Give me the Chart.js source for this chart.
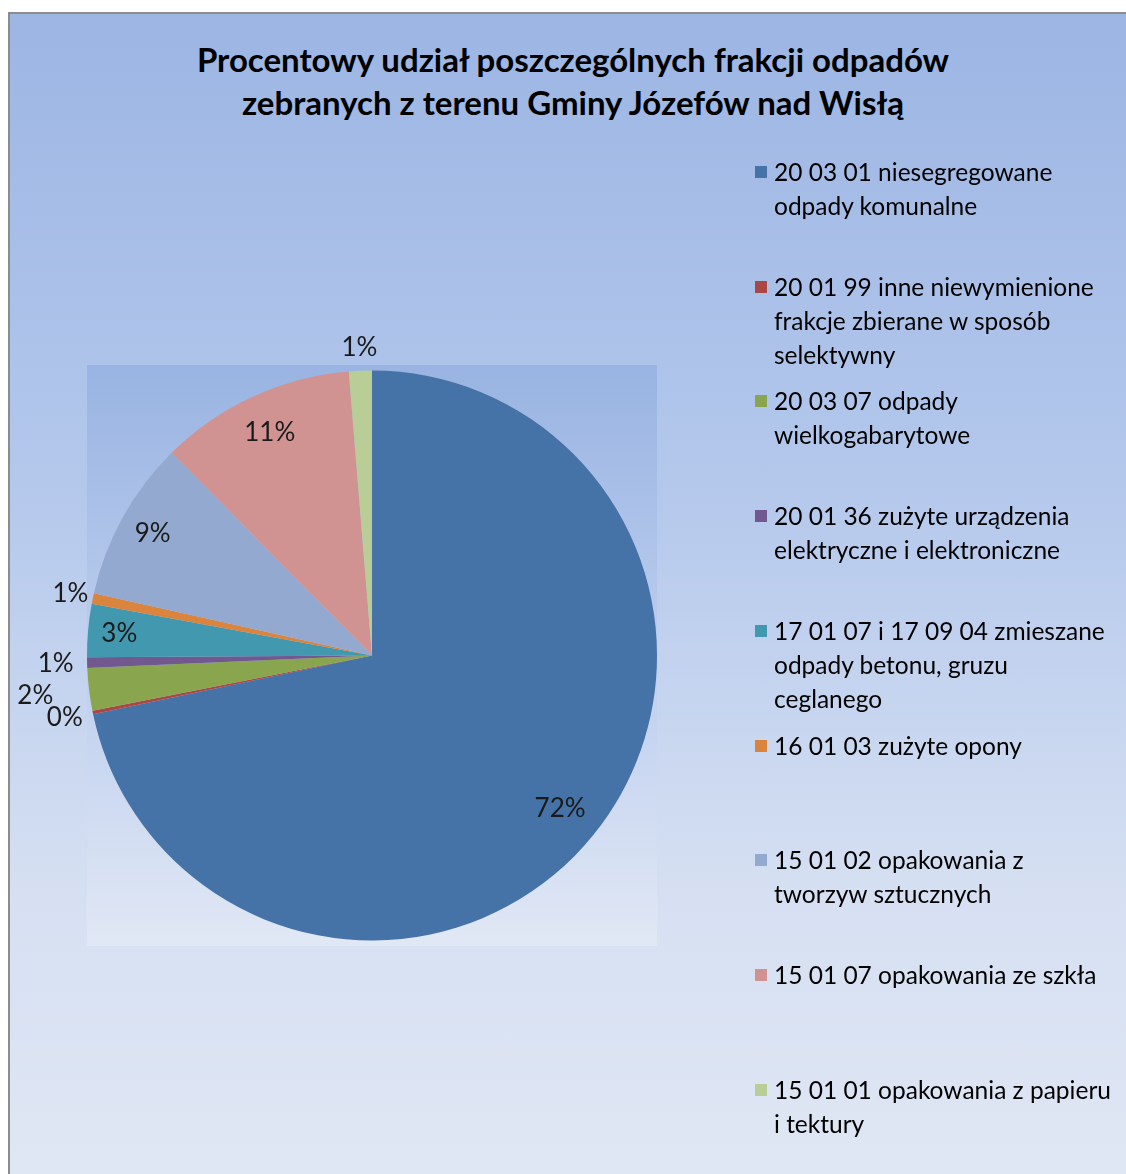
<!DOCTYPE html>
<html>
<head>
<meta charset="utf-8">
<script src="https://cdn.jsdelivr.net/npm/chart.js@4"></script>
<style>
  html, body { margin: 0; padding: 0; background: #ffffff; }
  #frame {
    position: absolute; left: 8px; top: 12px; width: 1130px; height: 1180px;
    border-left: 2px solid #8c8c8c; border-top: 2px solid #8c8c8c;
    background: linear-gradient(to bottom, #9cb5e3 0%, #b4c8ec 40%, #d6e0f2 75%, #e0e7f4 100%);
    font-family: Lato, "Open Sans", sans-serif;
  }
  #title {
    position: absolute; left: 0; top: 24px; width: 1126px; text-align: center;
    font-weight: bold; font-size: 33px; line-height: 43px; color: #000;
  }
  #chart { position: absolute; left: -10px; top: -14px; }
  .item { position: absolute; left: 764px; font-size: 24.5px; line-height: 34px; color: #000; }
  .item .box { position: absolute; left: -19px; top: 11px; width: 12px; height: 12px; }
</style>
</head>
<body>
<div id="frame">
  <div id="title">Procentowy udział poszczególnych frakcji odpadów<br>zebranych z terenu Gminy Józefów nad Wisłą</div>
  <canvas id="chart" width="1126" height="1174"></canvas>
  <div id="legend"></div>
</div>
<script>
// ----------------- DATA -----------------
var categories = [
    ["20 03 01 niesegregowane", "odpady komunalne"],
    ["20 01 99 inne niewymienione", "frakcje zbierane w sposób", "selektywny"],
    ["20 03 07 odpady", "wielkogabarytowe"],
    ["20 01 36 zużyte urządzenia", "elektryczne i elektroniczne"],
    ["17 01 07 i 17 09 04 zmieszane", "odpady betonu, gruzu", "ceglanego"],
    ["16 01 03 zużyte opony"],
    ["15 01 02 opakowania z", "tworzyw sztucznych"],
    ["15 01 07 opakowania ze szkła"],
    ["15 01 01 opakowania z papieru", "i tektury"]
];
// percentage share of each fraction
var shares = [71.7, 0.2, 2.4, 0.6, 3.0, 0.6, 9.1, 11.1, 1.3];
var colors = ['#4572a7', '#aa4643', '#89a54e', '#71588f', '#4198af',
              '#db843d', '#93a9cf', '#d19392', '#b9cd96'];

// label distance from centre, as a part of the radius
var labelRadius = [0.85, 1.10, 1.19, 1.11, 0.89, 1.08, 0.88, 0.86, 1.08];
var LEGEND_TOP = 160;
var LEGEND_STEP = 114.7;

// ----------------- LEGEND (html) -----------------
var legend = document.getElementById('legend');
for (var i = 0; i < categories.length; i++) {
    var div = document.createElement('div');
    div.className = 'item';
    div.style.top = (LEGEND_TOP + i * LEGEND_STEP - 19) + 'px';
    div.innerHTML = '<span class="box" style="background:' + colors[i] + '"></span>' +
                    categories[i].join('<br>');
    legend.appendChild(div);
}

// ----------------- PLUGINS -----------------
// plot area background
var plotBg = {
    id: 'plotBg',
    beforeDraw: function(chart) {
        var a = chart.chartArea, ctx = chart.ctx;
        var g = ctx.createLinearGradient(0, a.top, 0, a.bottom);
        g.addColorStop(0, '#99b4e2');
        g.addColorStop(0.5, '#bccdee');
        g.addColorStop(1, '#e1e8f5');
        ctx.save();
        ctx.fillStyle = g;
        ctx.fillRect(a.left, a.top, a.right - a.left, a.bottom - a.top);
        ctx.restore();
    }
};

// percent labels
var pctLabels = {
    id: 'pctLabels',
    afterDatasetsDraw: function(chart) {
        var ctx = chart.ctx;
        var arcs = chart.getDatasetMeta(0).data;
        ctx.save();
        ctx.font = '26px Lato, "Open Sans", sans-serif';
        ctx.fillStyle = '#1a1a1a';
        ctx.textAlign = 'center';
        ctx.textBaseline = 'middle';
        arcs.forEach(function(arc, i) {
            var mid = (arc.startAngle + arc.endAngle) / 2;
            var r = arc.outerRadius * labelRadius[i];
            var x = arc.x + Math.cos(mid) * r;
            var y = arc.y + Math.sin(mid) * r;
            ctx.fillText(Math.round(shares[i]) + '%', x, y);
        });
        ctx.restore();
    }
};

// ----------------- CHART -----------------
new Chart(document.getElementById('chart'), {
    type: 'pie',
    data: {
        labels: categories.map(function(c) { return c.join(' '); }),
        datasets: [{
            data: shares,
            backgroundColor: colors,
            borderWidth: 0
        }]
    },
    options: {
        responsive: false,
        animation: false,
        layout: { padding: { left: 87, top: 365, right: 469, bottom: 228 } },
        plugins: {
            legend: { display: false },
            tooltip: { enabled: false }
        }
    },
    plugins: [plotBg, pctLabels]
});
</script>
</body>
</html>
